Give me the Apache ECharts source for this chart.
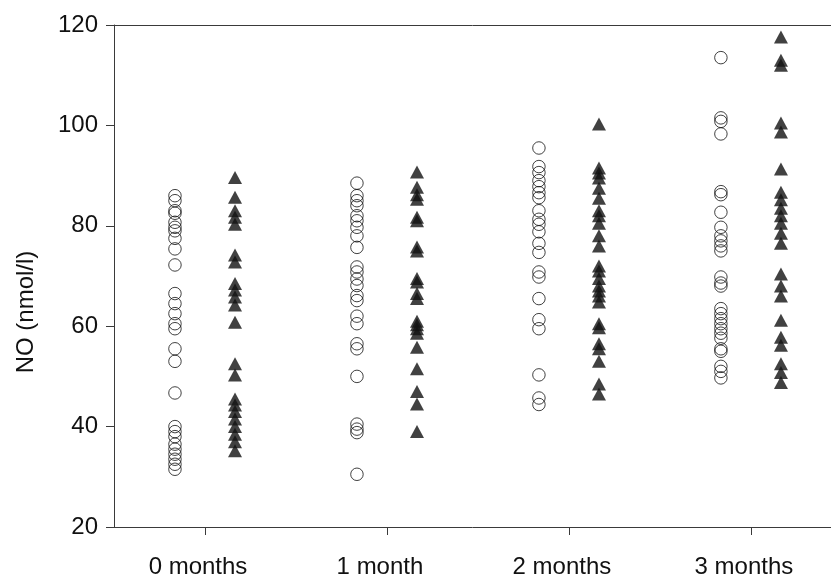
<!DOCTYPE html>
<html>
<head>
<meta charset="utf-8">
<script src="https://cdn.jsdelivr.net/npm/echarts@6/dist/echarts.min.js"></script>
<style>
  html, body { margin: 0; padding: 0; background: #fff; }
  #chart { width: 831px; height: 579px; }
</style>
</head>
<body>
<div id="chart"></div>
<script>
// Time points on the x axis
const months = ['0 months', '1 month', '2 months', '3 months'];

// Open circles: NO values per time point (nmol/l)
const openMonth0 = [86, 85, 83, 82.5, 80.7, 79.7, 79, 77.5, 75.4, 72.2, 66.5, 64.5, 62.5, 60.5, 59.5, 55.5, 53, 46.7, 40, 39, 38, 36.5, 35.5, 34.5, 33.5, 32.5, 31.5];
const openMonth1 = [88.5, 86, 85, 84, 82, 81, 79.7, 78, 75.7, 71.8, 70.8, 69.4, 68.1, 66.1, 65.1, 62, 60.5, 56.5, 55.5, 50, 40.5, 39.5, 38.8, 30.5];
const openMonth2 = [95.5, 91.8, 90.6, 89, 87.8, 86.6, 85.6, 83, 81.3, 80.3, 78.8, 76.5, 74.7, 70.8, 69.8, 65.5, 61.3, 59.5, 50.3, 45.7, 44.4];
const openMonth3 = [113.5, 101.5, 100.8, 98.3, 86.8, 86.2, 82.7, 79.7, 78, 77, 76, 75, 69.8, 68.6, 68, 63.5, 62.5, 61.5, 60.5, 59.5, 58.6, 57.6, 55.5, 55, 52, 51, 49.7];

// Filled triangles: NO values per time point (nmol/l)
const filledMonth0 = [89.6, 85.7, 83, 81.7, 80.3, 74.2, 72.8, 68.5, 67.2, 65.8, 64.2, 60.8, 52.5, 50.3, 45.5, 44.3, 43, 41.5, 40, 38.5, 37, 35.2];
const filledMonth1 = [90.7, 87.7, 86.2, 85.3, 81.7, 81, 75.8, 75, 69.5, 68.8, 66.5, 65.5, 61, 60.3, 59.5, 58.6, 55.8, 51.5, 47, 44.5, 39];
const filledMonth2 = [100.3, 91.5, 90.5, 89.5, 87.5, 85.5, 83, 82, 80.5, 78, 76, 72, 71, 69.5, 68, 67, 66, 64.8, 60.5, 59.7, 56.5, 55.5, 53, 48.5, 46.5];
const filledMonth3 = [117.6, 113, 112, 100.5, 98.7, 91.3, 86.7, 85.2, 83.5, 82, 80.5, 78.5, 76.5, 70.4, 68, 66, 61.2, 57.8, 56.2, 52.5, 50.8, 48.8];

// Y axis tick values
const yTicks = [20, 40, 60, 80, 100, 120];

const openGroups = [openMonth0, openMonth1, openMonth2, openMonth3];
const filledGroups = [filledMonth0, filledMonth1, filledMonth2, filledMonth3];

const SHIFT = 0.165; // horizontal spread of the two groups around each time point
const FONT = 'Liberation Sans, Arial, Helvetica, sans-serif';
const INK = '#111';
const LINE = '#3a3a3a';

function toPoints(groups, offset) {
  const pts = [];
  groups.forEach((vals, i) => vals.forEach(v => pts.push([i + offset, v])));
  return pts;
}

const chart = echarts.init(document.getElementById('chart'), null, { renderer: 'canvas' });

// The frame runs on past the right edge of the canvas, so the x range stops short of 3.5
const X_MIN = -0.5;
const X_MAX = 3.44;

chart.setOption({
  animation: false,
  backgroundColor: '#fff',
  grid: { left: 114, right: 0, top: 25, bottom: 49, containLabel: false },
  xAxis: [
    {
      type: 'value',
      min: X_MIN,
      max: X_MAX,
      splitLine: { show: false },
      axisLine: { show: true, onZero: false, lineStyle: { color: LINE, width: 1 } },
      axisTick: { show: true, inside: false, length: 8, customValues: [0, 1, 2, 3], lineStyle: { color: LINE } },
      axisLabel: {
        show: true,
        customValues: [0, 1, 2, 3],
        formatter: v => months[Math.round(v)] || '',
        color: INK,
        fontFamily: FONT,
        fontSize: 24,
        margin: 28,
        padding: [0, 14, 0, 0]
      }
    },
    {
      type: 'value',
      position: 'top',
      min: X_MIN,
      max: X_MAX,
      splitLine: { show: false },
      axisLine: { show: true, onZero: false, lineStyle: { color: LINE, width: 1 } },
      axisTick: { show: false },
      axisLabel: { show: false }
    }
  ],
  yAxis: {
    type: 'value',
    min: yTicks[0],
    max: yTicks[yTicks.length - 1],
    interval: 20,
    splitLine: { show: false },
    axisLine: { show: true, onZero: false, lineStyle: { color: LINE, width: 1 } },
    axisTick: { show: true, inside: false, length: 8, lineStyle: { color: LINE } },
    axisLabel: { color: INK, fontFamily: FONT, fontSize: 24, margin: 16 }
  },
  graphic: [
    {
      type: 'text',
      x: 26,
      y: 312,
      rotation: Math.PI / 2,
      style: {
        text: 'NO (nmol/l)',
        font: '24px ' + FONT,
        fill: INK,
        textAlign: 'center',
        textVerticalAlign: 'middle'
      }
    }
  ],
  series: [
    {
      name: 'open',
      type: 'scatter',
      xAxisIndex: 0,
      symbol: 'circle',
      symbolSize: 12.5,
      itemStyle: { color: 'rgba(0,0,0,0)', borderColor: INK, borderWidth: 1 },
      data: toPoints(openGroups, -SHIFT)
    },
    {
      name: 'filled',
      type: 'scatter',
      xAxisIndex: 0,
      symbol: 'triangle',
      symbolSize: [14, 13],
      itemStyle: { color: INK },
      data: toPoints(filledGroups, SHIFT)
    }
  ]
});
</script>
</body>
</html>
